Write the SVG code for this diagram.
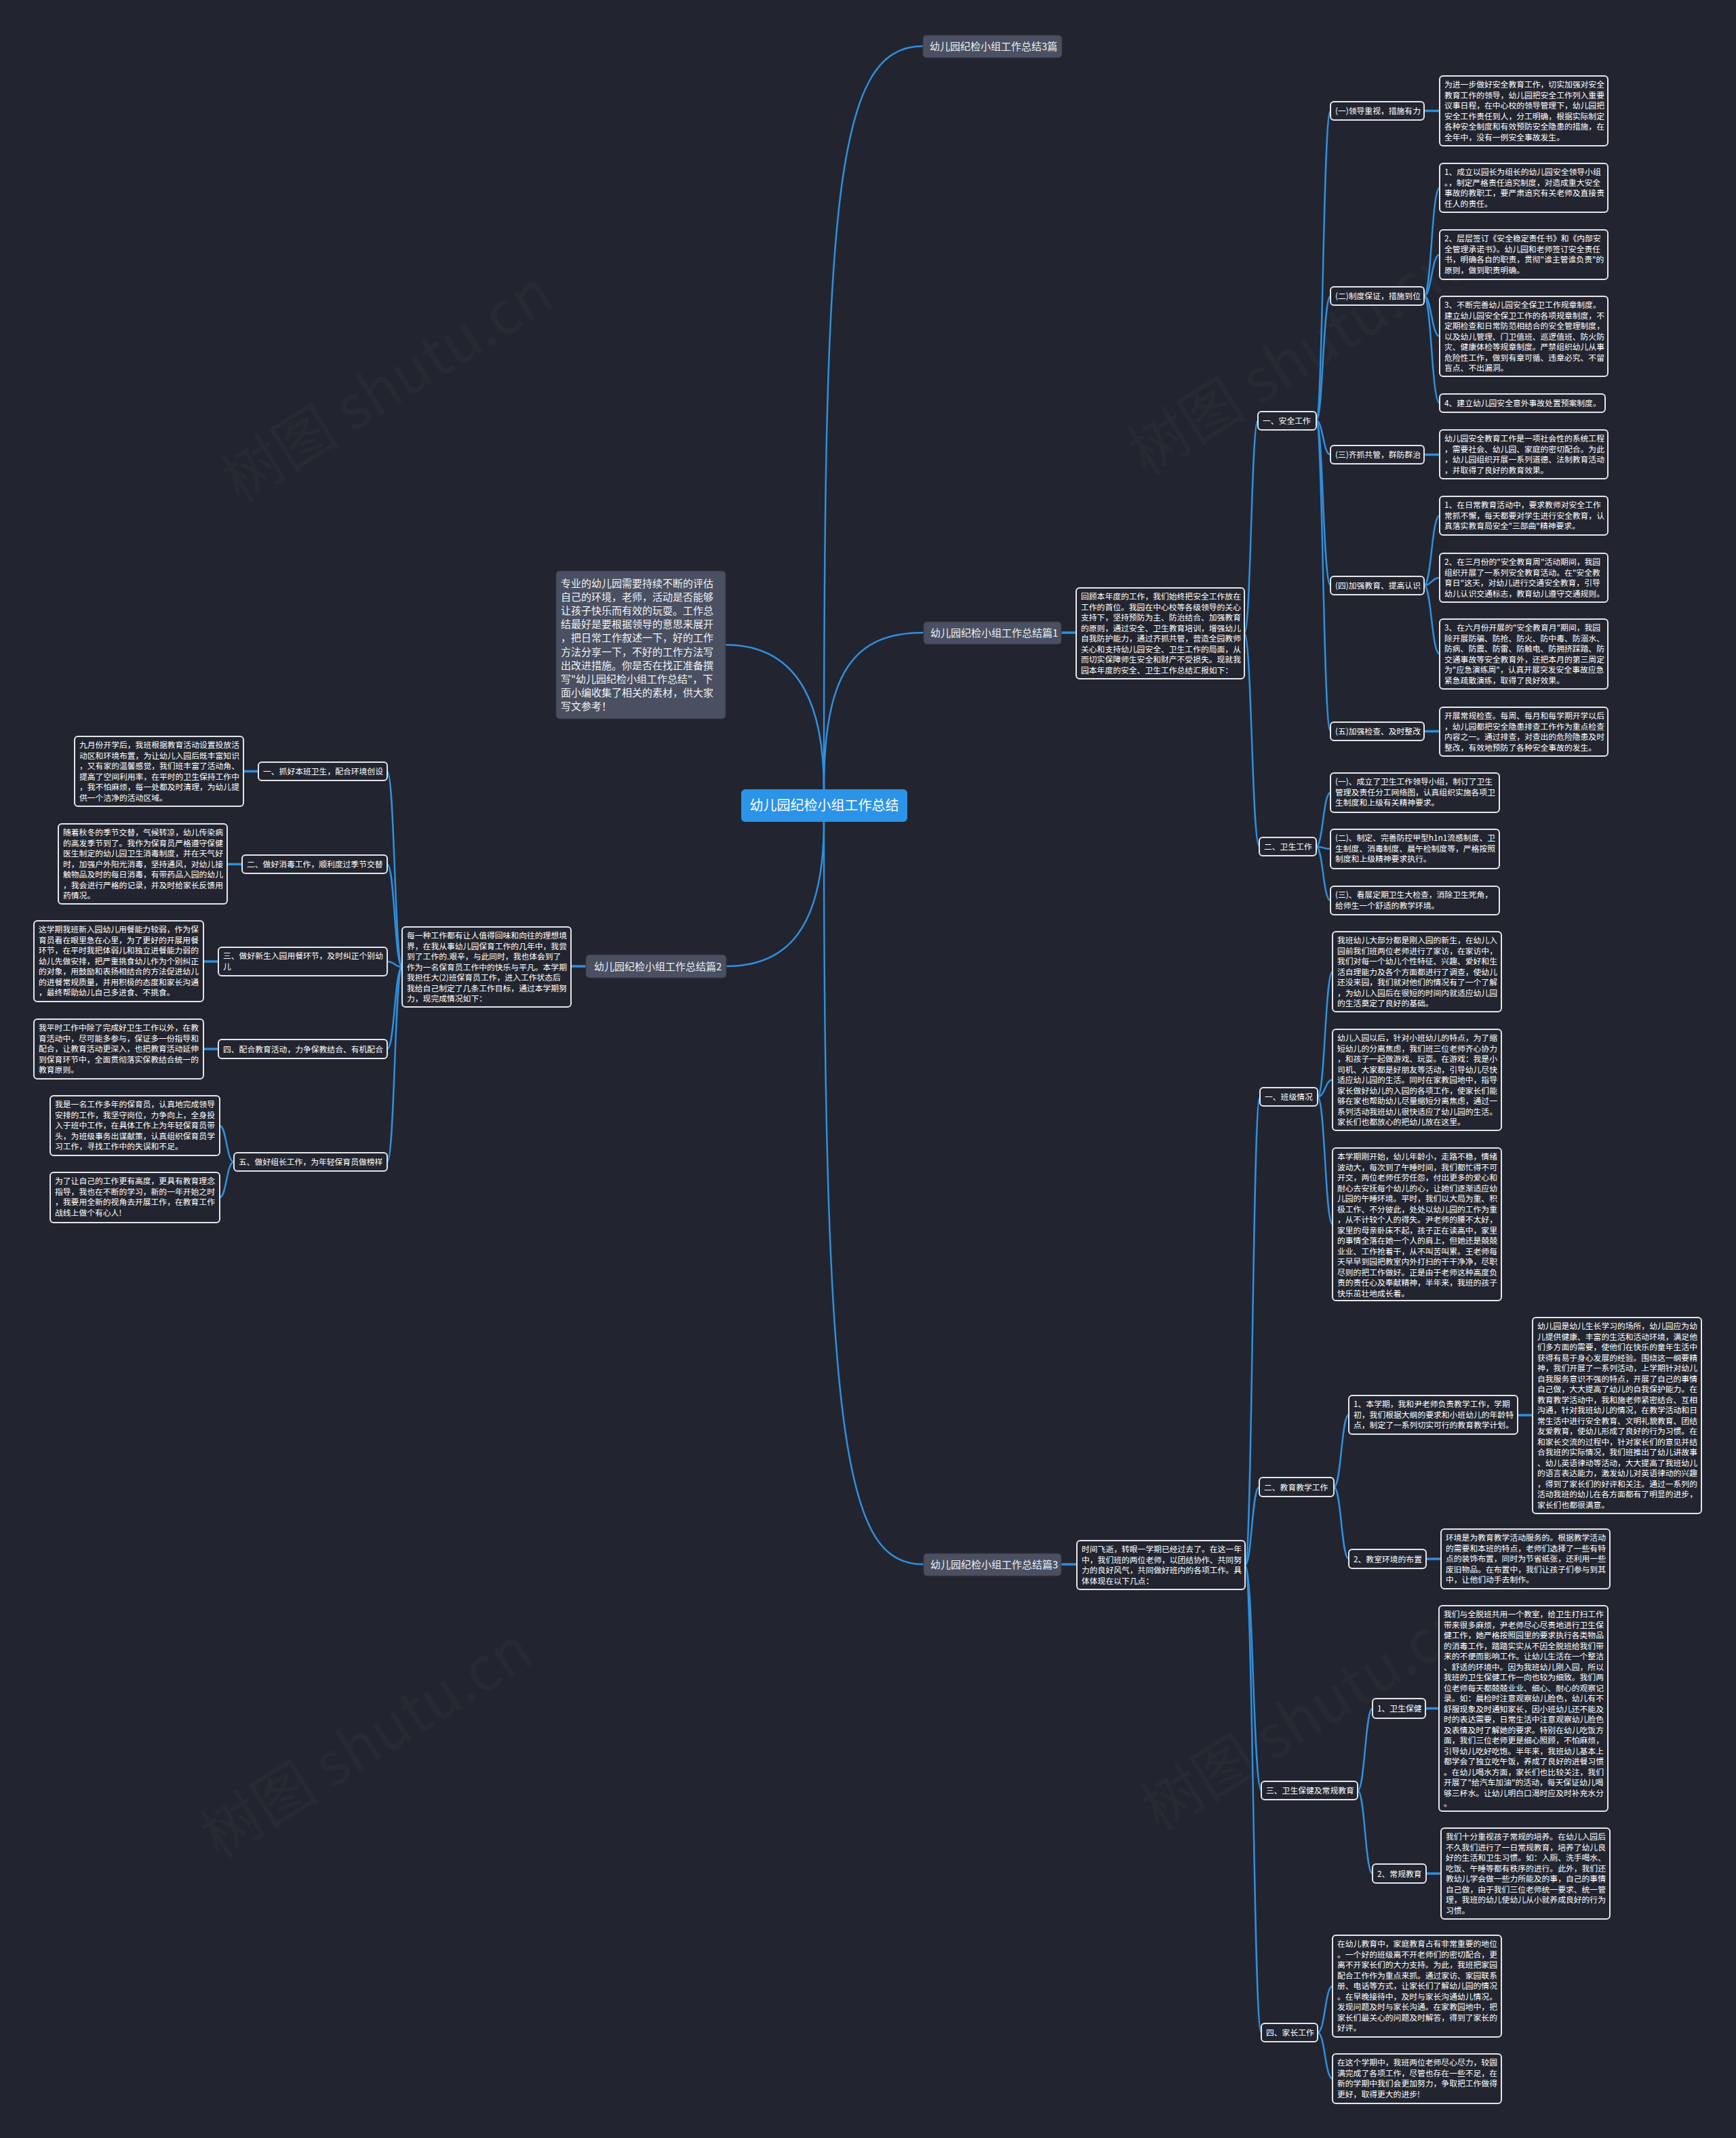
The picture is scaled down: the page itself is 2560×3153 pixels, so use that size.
<svg xmlns="http://www.w3.org/2000/svg" width="2560" height="3153" viewBox="0 0 2560 3153">
<style>
.bg{fill:#22252f}
.box{fill:#22252f;stroke:#e4e6ea;stroke-width:2}
.gn{fill:#4a5061;stroke:#343845;stroke-width:1}
.cn{fill:#2b93e8}
.t{font-family:"Noto Sans CJK SC","Noto Sans",sans-serif;font-size:11.8px;fill:#ffffff}
.ti{font-size:15px;fill:#f2f3f5}
.tg{font-size:15px;fill:#eef0f4}
.tc{font-size:20px;fill:#ffffff}
.ln{fill:none;stroke:#2f8fde;stroke-width:2.5}
.lh{fill:none;stroke:#2f8fde;stroke-width:3.5}
.wm{font-family:"Noto Sans CJK SC","Noto Sans",sans-serif;font-size:88px;fill:#ffffff;opacity:0.02}
</style>
<rect class="bg" x="0" y="0" width="2560" height="3153"/>
<g id="watermarks">
<text class="wm" x="573" y="600" text-anchor="middle" transform="rotate(-32 573 573)">树图 shutu.cn</text>
<text class="wm" x="1910" y="560" text-anchor="middle" transform="rotate(-32 1910 533)">树图 shutu.cn</text>
<text class="wm" x="543" y="2600" text-anchor="middle" transform="rotate(-32 543 2574)">树图 shutu.cn</text>
<text class="wm" x="1930" y="2560" text-anchor="middle" transform="rotate(-32 1930 2534)">树图 shutu.cn</text>
</g>
<g id="connectors">
<path class="ln" d="M1215,1164 C1215,300 1230,68 1361,68"/>
<path class="ln" d="M1215,1164 C1215,990 1260,933 1362,933"/>
<path class="ln" d="M1215,1164 C1215,1000 1150,951 1070,951"/>
<path class="ln" d="M1215,1212 C1215,2150 1250,2307 1362,2307"/>
<path class="ln" d="M1215,1212 C1215,1370 1160,1425 1071,1425"/>
<path class="lh" d="M1565,933 L1587,933"/>
<path class="lh" d="M864,1425 L842,1425"/>
<path class="lh" d="M1565,2307 L1588,2307"/>
<path class="ln" d="M1835,934 C1845,934 1845,620 1855,620"/>
<path class="ln" d="M1835,934 C1846,934 1846,1248 1857,1248"/>
<path class="ln" d="M1941,620 C1951,620 1951,163.5 1962,163.5"/>
<path class="ln" d="M1941,620 C1951,620 1951,436.5 1962,436.5"/>
<path class="ln" d="M1941,620 C1951,620 1951,670.5 1962,670.5"/>
<path class="ln" d="M1941,620 C1951,620 1951,863.5 1962,863.5"/>
<path class="ln" d="M1941,620 C1951,620 1951,1078.5 1962,1078.5"/>
<path class="lh" d="M2100,163.5 L2123,163.5"/>
<path class="ln" d="M2100,436.5 C2111,436.5 2111,277 2123,277"/>
<path class="ln" d="M2100,436.5 C2111,436.5 2111,375.5 2123,375.5"/>
<path class="ln" d="M2100,436.5 C2111,436.5 2111,496 2123,496"/>
<path class="ln" d="M2100,436.5 C2111,436.5 2111,594.5 2123,594.5"/>
<path class="lh" d="M2100,670.5 L2123,670.5"/>
<path class="ln" d="M2100,863.5 C2111,863.5 2111,760.5 2123,760.5"/>
<path class="ln" d="M2100,863.5 C2111,863.5 2111,852 2123,852"/>
<path class="ln" d="M2100,863.5 C2111,863.5 2111,964.5 2123,964.5"/>
<path class="lh" d="M2100,1078.5 L2123,1078.5"/>
<path class="ln" d="M1941,1248.5 C1951,1248.5 1951,1169 1962,1169"/>
<path class="ln" d="M1941,1248.5 C1951,1248.5 1951,1252 1962,1252"/>
<path class="ln" d="M1941,1248.5 C1951,1248.5 1951,1328 1962,1328"/>
<path class="ln" d="M593,1426 C582,1426 582,1137.5 571,1137.5"/>
<path class="ln" d="M593,1426 C582,1426 582,1274.5 571,1274.5"/>
<path class="ln" d="M593,1426 C582,1426 582,1418 571,1418"/>
<path class="ln" d="M593,1426 C582,1426 582,1547 571,1547"/>
<path class="ln" d="M593,1426 C582,1426 582,1713.5 571,1713.5"/>
<path class="lh" d="M381,1137.5 L359,1137.5"/>
<path class="lh" d="M357,1274.5 L335,1274.5"/>
<path class="lh" d="M322,1418 L300,1418"/>
<path class="lh" d="M322,1547 L300,1547"/>
<path class="ln" d="M345,1713.5 C334,1713.5 334,1660 324,1660"/>
<path class="ln" d="M345,1713.5 C334,1713.5 334,1766 324,1766"/>
<path class="ln" d="M1836,2308 C1847,2308 1847,1617.5 1858,1617.5"/>
<path class="ln" d="M1836,2308 C1846,2308 1846,2193 1857,2193"/>
<path class="ln" d="M1836,2308 C1848,2308 1848,2640.5 1860,2640.5"/>
<path class="ln" d="M1836,2308 C1848,2308 1848,2997.5 1860,2997.5"/>
<path class="ln" d="M1943,1617.5 C1954,1617.5 1954,1433 1965,1433"/>
<path class="ln" d="M1943,1617.5 C1954,1617.5 1954,1592.5 1965,1592.5"/>
<path class="ln" d="M1943,1617.5 C1954,1617.5 1954,1805.5 1965,1805.5"/>
<path class="ln" d="M1967,2193 C1978,2193 1978,2086.5 1989,2086.5"/>
<path class="ln" d="M1967,2193 C1978,2193 1978,2299 1989,2299"/>
<path class="lh" d="M2238,2087 L2260,2087"/>
<path class="lh" d="M2103,2299 L2125,2299"/>
<path class="ln" d="M2002,2640.5 C2013,2640.5 2013,2519.5 2024,2519.5"/>
<path class="ln" d="M2002,2640.5 C2013,2640.5 2013,2763 2024,2763"/>
<path class="lh" d="M2102,2519.5 L2122,2519.5"/>
<path class="lh" d="M2103,2763 L2125,2763"/>
<path class="ln" d="M1943,2997.5 C1954,2997.5 1954,2929 1965,2929"/>
<path class="ln" d="M1943,2997.5 C1954,2997.5 1954,3065.5 1965,3065.5"/>
</g>
<g id="center">
<rect class="cn" x="1093" y="1164" width="245" height="48" rx="6"/>
<text class="t tc" x="1215.5" y="1195" text-anchor="middle">幼儿园纪检小组工作总结</text>
</g>
<g id="p3top">
<rect class="gn" x="1361" y="52" width="205" height="33" rx="5"/>
<text class="t tg" x="1371" y="74">幼儿园纪检小组工作总结3篇</text>
</g>
<g id="intro">
<rect class="gn" x="820" y="842" width="250" height="218" rx="5"/>
<text class="t ti"><tspan x="827" y="865.5">专业的幼儿园需要持续不断的评估</tspan><tspan x="827" y="885.7">自己的环境，老师，活动是否能够</tspan><tspan x="827" y="905.9">让孩子快乐而有效的玩耍。工作总</tspan><tspan x="827" y="926.1">结最好是要根据领导的意思来展开</tspan><tspan x="827" y="946.3">，把日常工作叙述一下，好的工作</tspan><tspan x="827" y="966.5">方法分享一下，不好的工作方法写</tspan><tspan x="827" y="986.7">出改进措施。你是否在找正准备撰</tspan><tspan x="827" y="1006.9">写"幼儿园纪检小组工作总结"，下</tspan><tspan x="827" y="1027.1">面小编收集了相关的素材，供大家</tspan><tspan x="827" y="1047.3">写文参考！</tspan></text>
</g>
<g id="p1">
<rect class="gn" x="1362" y="917" width="203" height="33" rx="5"/>
<text class="t tg" x="1372" y="939">幼儿园纪检小组工作总结篇1</text>
</g>
<g id="p1t">
<rect class="box" x="1587" y="867" width="248" height="134" rx="5"/>
<text class="t"><tspan x="1594" y="884">回顾本年度的工作，我们始终把安全工作放在</tspan><tspan x="1594" y="899.5">工作的首位。我园在中心校等各级领导的关心</tspan><tspan x="1594" y="915">支持下，坚持预防为主、防治结合、加强教育</tspan><tspan x="1594" y="930.5">的原则，通过安全、卫生教育培训，增强幼儿</tspan><tspan x="1594" y="946">自我防护能力，通过齐抓共管，营造全园教师</tspan><tspan x="1594" y="961.5">关心和支持幼儿园安全、卫生工作的局面，从</tspan><tspan x="1594" y="977">而切实保障师生安全和财产不受损失。现就我</tspan><tspan x="1594" y="992.5">园本年度的安全、卫生工作总结汇报如下：</tspan></text>
</g>
<g id="a0">
<rect class="box" x="1855" y="607" width="86" height="27" rx="5"/>
<text class="t" x="1862" y="625">一、安全工作</text>
</g>
<g id="a1">
<rect class="box" x="1962" y="150" width="138" height="27" rx="5"/>
<text class="t" x="1969" y="168">(一)领导重视，措施有力</text>
</g>
<g id="a1t">
<rect class="box" x="2123" y="112" width="248" height="103" rx="5"/>
<text class="t"><tspan x="2130" y="129">为进一步做好安全教育工作，切实加强对安全</tspan><tspan x="2130" y="144.5">教育工作的领导，幼儿园把安全工作列入重要</tspan><tspan x="2130" y="160">议事日程，在中心校的领导管理下，幼儿园把</tspan><tspan x="2130" y="175.5">安全工作责任到人，分工明确，根据实际制定</tspan><tspan x="2130" y="191">各种安全制度和有效预防安全隐患的措施，在</tspan><tspan x="2130" y="206.5">全年中，没有一例安全事故发生。</tspan></text>
</g>
<g id="a2">
<rect class="box" x="1962" y="423" width="138" height="27" rx="5"/>
<text class="t" x="1969" y="441">(二)制度保证，措施到位</text>
</g>
<g id="a2a">
<rect class="box" x="2123" y="241" width="248" height="72" rx="5"/>
<text class="t"><tspan x="2130" y="258">1、成立以园长为组长的幼儿园安全领导小组</tspan><tspan x="2130" y="273.5">。，制定严格责任追究制度，对造成重大安全</tspan><tspan x="2130" y="289">事故的教职工，要严肃追究有关老师及直接责</tspan><tspan x="2130" y="304.5">任人的责任。</tspan></text>
</g>
<g id="a2b">
<rect class="box" x="2123" y="339" width="248" height="73" rx="5"/>
<text class="t"><tspan x="2130" y="356">2、层层签订《安全稳定责任书》和《内部安</tspan><tspan x="2130" y="371.5">全管理承诺书》。幼儿园和老师签订安全责任</tspan><tspan x="2130" y="387">书，明确各自的职责，贯彻"谁主管谁负责"的</tspan><tspan x="2130" y="402.5">原则，做到职责明确。</tspan></text>
</g>
<g id="a2c">
<rect class="box" x="2123" y="437" width="248" height="118" rx="5"/>
<text class="t"><tspan x="2130" y="454">3、不断完善幼儿园安全保卫工作规章制度。</tspan><tspan x="2130" y="469.5">建立幼儿园安全保卫工作的各项规章制度，不</tspan><tspan x="2130" y="485">定期检查和日常防范相结合的安全管理制度，</tspan><tspan x="2130" y="500.5">以及幼儿管理、门卫值班、巡逻值班、防火防</tspan><tspan x="2130" y="516">灾、健康体检等规章制度。严禁组织幼儿从事</tspan><tspan x="2130" y="531.5">危险性工作，做到有章可循、违章必究、不留</tspan><tspan x="2130" y="547">盲点、不出漏洞。</tspan></text>
</g>
<g id="a2d">
<rect class="box" x="2123" y="581" width="244" height="27" rx="5"/>
<text class="t" x="2130" y="599">4、建立幼儿园安全意外事故处置预案制度。</text>
</g>
<g id="a3">
<rect class="box" x="1962" y="657" width="138" height="27" rx="5"/>
<text class="t" x="1969" y="675">(三)齐抓共管，群防群治</text>
</g>
<g id="a3t">
<rect class="box" x="2123" y="634" width="248" height="72" rx="5"/>
<text class="t"><tspan x="2130" y="651">幼儿园安全教育工作是一项社会性的系统工程</tspan><tspan x="2130" y="666.5">，需要社会、幼儿园、家庭的密切配合。为此</tspan><tspan x="2130" y="682">，幼儿园组织开展一系列道德、法制教育活动</tspan><tspan x="2130" y="697.5">，并取得了良好的教育效果。</tspan></text>
</g>
<g id="a4">
<rect class="box" x="1962" y="850" width="138" height="27" rx="5"/>
<text class="t" x="1969" y="868">(四)加强教育、提高认识</text>
</g>
<g id="a4a">
<rect class="box" x="2123" y="732" width="248" height="57" rx="5"/>
<text class="t"><tspan x="2130" y="749">1、在日常教育活动中，要求教师对安全工作</tspan><tspan x="2130" y="764.5">常抓不懈，每天都要对学生进行安全教育，认</tspan><tspan x="2130" y="780">真落实教育局安全"三部曲"精神要求。</tspan></text>
</g>
<g id="a4b">
<rect class="box" x="2123" y="816" width="248" height="72" rx="5"/>
<text class="t"><tspan x="2130" y="833">2、在三月份的"安全教育周"活动期间，我园</tspan><tspan x="2130" y="848.5">组织开展了一系列安全教育活动。在"安全教</tspan><tspan x="2130" y="864">育日"这天，对幼儿进行交通安全教育，引导</tspan><tspan x="2130" y="879.5">幼儿认识交通标志，教育幼儿遵守交通规则。</tspan></text>
</g>
<g id="a4c">
<rect class="box" x="2123" y="913" width="248" height="103" rx="5"/>
<text class="t"><tspan x="2130" y="930">3、在六月份开展的"安全教育月"期间，我园</tspan><tspan x="2130" y="945.5">除开展防骗、防抢、防火、防中毒、防溺水、</tspan><tspan x="2130" y="961">防病、防震、防雷、防触电、防拥挤踩踏、防</tspan><tspan x="2130" y="976.5">交通事故等安全教育外，还把本月的第三周定</tspan><tspan x="2130" y="992">为"应急演练周"，认真开展突发安全事故应急</tspan><tspan x="2130" y="1007.5">紧急疏散演练，取得了良好效果。</tspan></text>
</g>
<g id="a5">
<rect class="box" x="1962" y="1065" width="138" height="27" rx="5"/>
<text class="t" x="1969" y="1083">(五)加强检查、及时整改</text>
</g>
<g id="a5t">
<rect class="box" x="2123" y="1043" width="248" height="72" rx="5"/>
<text class="t"><tspan x="2130" y="1060">开展常规检查。每周、每月和每学期开学以后</tspan><tspan x="2130" y="1075.5">，幼儿园都把安全隐患排查工作作为重点检查</tspan><tspan x="2130" y="1091">内容之一。通过排查，对查出的危险隐患及时</tspan><tspan x="2130" y="1106.5">整改，有效地预防了各种安全事故的发生。</tspan></text>
</g>
<g id="b0">
<rect class="box" x="1857" y="1235" width="84" height="27" rx="5"/>
<text class="t" x="1864" y="1253">二、卫生工作</text>
</g>
<g id="b1">
<rect class="box" x="1962" y="1140" width="249" height="58" rx="5"/>
<text class="t"><tspan x="1969" y="1157">(一)、成立了卫生工作领导小组，制订了卫生</tspan><tspan x="1969" y="1172.5">管理及责任分工网络图，认真组织实施各项卫</tspan><tspan x="1969" y="1188">生制度和上级有关精神要求。</tspan></text>
</g>
<g id="b2">
<rect class="box" x="1962" y="1223" width="249" height="58" rx="5"/>
<text class="t"><tspan x="1969" y="1240">(二)、制定、完善防控甲型h1n1流感制度、卫</tspan><tspan x="1969" y="1255.5">生制度、消毒制度、晨午检制度等，严格按照</tspan><tspan x="1969" y="1271">制度和上级精神要求执行。</tspan></text>
</g>
<g id="b3">
<rect class="box" x="1962" y="1307" width="249" height="42" rx="5"/>
<text class="t"><tspan x="1969" y="1324">(三)、看展定期卫生大检查，消除卫生死角，</tspan><tspan x="1969" y="1339.5">给师生一个舒适的教学环境。</tspan></text>
</g>
<g id="p2">
<rect class="gn" x="864" y="1408" width="207" height="34" rx="5"/>
<text class="t tg" x="876" y="1431">幼儿园纪检小组工作总结篇2</text>
</g>
<g id="p2t">
<rect class="box" x="593" y="1367" width="249" height="118" rx="5"/>
<text class="t"><tspan x="600" y="1384">每一种工作都有让人值得回味和向往的理想境</tspan><tspan x="600" y="1399.5">界，在我从事幼儿园保育工作的几年中，我尝</tspan><tspan x="600" y="1415">到了工作的.艰辛，与此同时，我也体会到了</tspan><tspan x="600" y="1430.5">作为一名保育员工作中的快乐与平凡。本学期</tspan><tspan x="600" y="1446">我担任大(2)班保育员工作，进入工作状态后</tspan><tspan x="600" y="1461.5">我给自己制定了几条工作目标，通过本学期努</tspan><tspan x="600" y="1477">力，现完成情况如下：</tspan></text>
</g>
<g id="l1">
<rect class="box" x="381" y="1124" width="190" height="27" rx="5"/>
<text class="t" x="388" y="1142">一、抓好本班卫生，配合环境创设</text>
</g>
<g id="l1t">
<rect class="box" x="110" y="1086" width="249" height="103" rx="5"/>
<text class="t"><tspan x="117" y="1103">九月份开学后，我班根据教育活动设置投放活</tspan><tspan x="117" y="1118.5">动区和环境布置，为让幼儿入园后既丰富知识</tspan><tspan x="117" y="1134">，又有家的温馨感觉，我们班丰富了活动角、</tspan><tspan x="117" y="1149.5">提高了空间利用率，在平时的卫生保持工作中</tspan><tspan x="117" y="1165">，我不怕麻烦，每一处都及时清理，为幼儿提</tspan><tspan x="117" y="1180.5">供一个洁净的活动区域。</tspan></text>
</g>
<g id="l2">
<rect class="box" x="357" y="1261" width="214" height="27" rx="5"/>
<text class="t" x="364" y="1279">二、做好消毒工作，顺利度过季节交替</text>
</g>
<g id="l2t">
<rect class="box" x="86" y="1215" width="249" height="118" rx="5"/>
<text class="t"><tspan x="93" y="1232">随着秋冬的季节交替，气候转凉，幼儿传染病</tspan><tspan x="93" y="1247.5">的高发季节到了。我作为保育员严格遵守保健</tspan><tspan x="93" y="1263">医生制定的幼儿园卫生消毒制度，并在天气好</tspan><tspan x="93" y="1278.5">时，加强户外阳光消毒，坚持通风，对幼儿接</tspan><tspan x="93" y="1294">触物品及时的每日消毒，有带药品入园的幼儿</tspan><tspan x="93" y="1309.5">，我会进行严格的记录，并及时给家长反馈用</tspan><tspan x="93" y="1325">药情况。</tspan></text>
</g>
<g id="l3">
<rect class="box" x="322" y="1397" width="249" height="42" rx="5"/>
<text class="t"><tspan x="329" y="1414">三、做好新生入园用餐环节，及时纠正个别幼</tspan><tspan x="329" y="1429.5">儿</tspan></text>
</g>
<g id="l3t">
<rect class="box" x="50" y="1358" width="250" height="119" rx="5"/>
<text class="t"><tspan x="57" y="1375">这学期我班新入园幼儿用餐能力较弱，作为保</tspan><tspan x="57" y="1390.5">育员看在眼里急在心里，为了更好的开展用餐</tspan><tspan x="57" y="1406">环节，在平时我把体弱儿和独立进餐能力弱的</tspan><tspan x="57" y="1421.5">幼儿先做安排，把严重挑食幼儿作为个别纠正</tspan><tspan x="57" y="1437">的对象，用鼓励和表扬相结合的方法促进幼儿</tspan><tspan x="57" y="1452.5">的进餐常规质量，并用积极的态度和家长沟通</tspan><tspan x="57" y="1468">，最终帮助幼儿自己多进食、不挑食。</tspan></text>
</g>
<g id="l4">
<rect class="box" x="322" y="1533" width="249" height="28" rx="5"/>
<text class="t" x="329" y="1552">四、配合教育活动，力争保教结合、有机配合</text>
</g>
<g id="l4t">
<rect class="box" x="50" y="1503" width="250" height="88" rx="5"/>
<text class="t"><tspan x="57" y="1520">我平时工作中除了完成好卫生工作以外，在教</tspan><tspan x="57" y="1535.5">育活动中，尽可能多参与，保证多一份指导和</tspan><tspan x="57" y="1551">配合，让教育活动更深入，也把教育活动延伸</tspan><tspan x="57" y="1566.5">到保育环节中，全面贯彻落实保教结合统一的</tspan><tspan x="57" y="1582">教育原则。</tspan></text>
</g>
<g id="l5">
<rect class="box" x="345" y="1700" width="226" height="27" rx="5"/>
<text class="t" x="352" y="1718">五、做好组长工作，为年轻保育员做榜样</text>
</g>
<g id="l5a">
<rect class="box" x="74" y="1616" width="250" height="88" rx="5"/>
<text class="t"><tspan x="81" y="1633">我是一名工作多年的保育员，认真地完成领导</tspan><tspan x="81" y="1648.5">安排的工作，我坚守岗位，力争向上，全身投</tspan><tspan x="81" y="1664">入于班中工作，在具体工作上为年轻保育员带</tspan><tspan x="81" y="1679.5">头，为班级事务出谋献策，认真组织保育员学</tspan><tspan x="81" y="1695">习工作，寻找工作中的失误和不足。</tspan></text>
</g>
<g id="l5b">
<rect class="box" x="74" y="1729" width="250" height="74" rx="5"/>
<text class="t"><tspan x="81" y="1746">为了让自己的工作更有高度，更具有教育理念</tspan><tspan x="81" y="1761.5">指导，我也在不断的学习，新的一年开始之时</tspan><tspan x="81" y="1777">，我要用全新的视角去开展工作，在教育工作</tspan><tspan x="81" y="1792.5">战线上做个有心人!</tspan></text>
</g>
<g id="p3">
<rect class="gn" x="1362" y="2291" width="203" height="33" rx="5"/>
<text class="t tg" x="1372" y="2313">幼儿园纪检小组工作总结篇3</text>
</g>
<g id="p3t">
<rect class="box" x="1588" y="2272" width="248" height="72" rx="5"/>
<text class="t"><tspan x="1595" y="2289">时间飞逝，转眼一学期已经过去了。在这一年</tspan><tspan x="1595" y="2304.5">中，我们班的两位老师，以团结协作、共同努</tspan><tspan x="1595" y="2320">力的良好风气，共同做好班内的各项工作。具</tspan><tspan x="1595" y="2335.5">体体现在以下几点：</tspan></text>
</g>
<g id="c1">
<rect class="box" x="1858" y="1604" width="85" height="27" rx="5"/>
<text class="t" x="1865" y="1622">一、班级情况</text>
</g>
<g id="c1a">
<rect class="box" x="1965" y="1374" width="249" height="118" rx="5"/>
<text class="t"><tspan x="1972" y="1391">我班幼儿大部分都是刚入园的新生，在幼儿入</tspan><tspan x="1972" y="1406.5">园前我们班两位老师进行了家访，在家访中，</tspan><tspan x="1972" y="1422">我们对每一个幼儿个性特征、兴趣、爱好和生</tspan><tspan x="1972" y="1437.5">活自理能力及各个方面都进行了调查，使幼儿</tspan><tspan x="1972" y="1453">还没来园，我们就对他们的情况有了一个了解</tspan><tspan x="1972" y="1468.5">，为幼儿入园后在很短的时间内就适应幼儿园</tspan><tspan x="1972" y="1484">的生活奠定了良好的基础。</tspan></text>
</g>
<g id="c1b">
<rect class="box" x="1965" y="1518" width="249" height="149" rx="5"/>
<text class="t"><tspan x="1972" y="1535">幼儿入园以后，针对小班幼儿的特点，为了缩</tspan><tspan x="1972" y="1550.5">短幼儿的分离焦虑，我们班三位老师齐心协力</tspan><tspan x="1972" y="1566">，和孩子一起做游戏、玩耍。在游戏：我是小</tspan><tspan x="1972" y="1581.5">司机、大家都是好朋友等活动，引导幼儿尽快</tspan><tspan x="1972" y="1597">适应幼儿园的生活。同时在家教园地中，指导</tspan><tspan x="1972" y="1612.5">家长做好幼儿的入园的各项工作，使家长们能</tspan><tspan x="1972" y="1628">够在家也帮助幼儿尽量缩短分离焦虑，通过一</tspan><tspan x="1972" y="1643.5">系列活动我班幼儿很快适应了幼儿园的生活。</tspan><tspan x="1972" y="1659">家长们也都放心的把幼儿放在这里。</tspan></text>
</g>
<g id="c1c">
<rect class="box" x="1965" y="1693" width="249" height="225" rx="5"/>
<text class="t"><tspan x="1972" y="1710">本学期刚开始，幼儿年龄小，走路不稳，情绪</tspan><tspan x="1972" y="1725.5">波动大，每次到了午睡时间，我们都忙得不可</tspan><tspan x="1972" y="1741">开交，两位老师任劳任怨，付出更多的爱心和</tspan><tspan x="1972" y="1756.5">耐心去安抚每个幼儿的心，让她们逐渐适应幼</tspan><tspan x="1972" y="1772">儿园的午睡环境。平时，我们以大局为重、积</tspan><tspan x="1972" y="1787.5">极工作、不分彼此，处处以幼儿园的工作为重</tspan><tspan x="1972" y="1803">，从不计较个人的得失。尹老师的腰不太好，</tspan><tspan x="1972" y="1818.5">家里的母亲卧床不起，孩子正在读高中，家里</tspan><tspan x="1972" y="1834">的事情全落在她一个人的肩上，但她还是兢兢</tspan><tspan x="1972" y="1849.5">业业、工作抢着干，从不叫苦叫累。王老师每</tspan><tspan x="1972" y="1865">天早早到园把教室内外打扫的干干净净，尽职</tspan><tspan x="1972" y="1880.5">尽则的把工作做好。正是由于老师这种高度负</tspan><tspan x="1972" y="1896">责的责任心及奉献精神，半年来，我班的孩子</tspan><tspan x="1972" y="1911.5">快乐茁壮地成长着。</tspan></text>
</g>
<g id="c2">
<rect class="box" x="1857" y="2179" width="110" height="28" rx="5"/>
<text class="t" x="1864" y="2198">二、教育教学工作</text>
</g>
<g id="c2a">
<rect class="box" x="1989" y="2058" width="249" height="57" rx="5"/>
<text class="t"><tspan x="1996" y="2075">1、本学期，我和尹老师负责教学工作，学期</tspan><tspan x="1996" y="2090.5">初，我们根据大纲的要求和小班幼儿的年龄特</tspan><tspan x="1996" y="2106">点，制定了一系列切实可行的教育教学计划。</tspan></text>
</g>
<g id="c2ax">
<rect class="box" x="2260" y="1943" width="249" height="289" rx="5"/>
<text class="t"><tspan x="2267" y="1960">幼儿园是幼儿生长学习的场所，幼儿园应为幼</tspan><tspan x="2267" y="1975.5">儿提供健康、丰富的生活和活动环境，满足他</tspan><tspan x="2267" y="1991">们多方面的需要，使他们在快乐的童年生活中</tspan><tspan x="2267" y="2006.5">获得有易于身心发展的经验。围绕这一纲要精</tspan><tspan x="2267" y="2022">神，我们开展了一系列活动，上学期针对幼儿</tspan><tspan x="2267" y="2037.5">自我服务意识不强的特点，开展了自己的事情</tspan><tspan x="2267" y="2053">自己做，大大提高了幼儿的自我保护能力。在</tspan><tspan x="2267" y="2068.5">教育教学活动中，我和施老师紧密结合、互相</tspan><tspan x="2267" y="2084">沟通，针对我班幼儿的情况，在教学活动和日</tspan><tspan x="2267" y="2099.5">常生活中进行安全教育、文明礼貌教育、团结</tspan><tspan x="2267" y="2115">友爱教育，使幼儿形成了良好的行为习惯。在</tspan><tspan x="2267" y="2130.5">和家长交流的过程中，针对家长们的意见并结</tspan><tspan x="2267" y="2146">合我班的实际情况，我们班推出了幼儿讲故事</tspan><tspan x="2267" y="2161.5">、幼儿英语律动等活动，大大提高了我班幼儿</tspan><tspan x="2267" y="2177">的语言表达能力，激发幼儿对英语律动的兴趣</tspan><tspan x="2267" y="2192.5">，得到了家长们的好评和关注。通过一系列的</tspan><tspan x="2267" y="2208">活动我班的幼儿在各方面都有了明显的进步，</tspan><tspan x="2267" y="2223.5">家长们也都很满意。</tspan></text>
</g>
<g id="c2b">
<rect class="box" x="1989" y="2285" width="114" height="28" rx="5"/>
<text class="t" x="1996" y="2304">2、教室环境的布置</text>
</g>
<g id="c2bt">
<rect class="box" x="2125" y="2255" width="249" height="88" rx="5"/>
<text class="t"><tspan x="2132" y="2272">环境是为教育教学活动服务的。根据教学活动</tspan><tspan x="2132" y="2287.5">的需要和本班的特点，老师们选择了一些有特</tspan><tspan x="2132" y="2303">点的装饰布置，同时为节省纸张，还利用一些</tspan><tspan x="2132" y="2318.5">废旧物品。在布置中，我们让孩子们参与到其</tspan><tspan x="2132" y="2334">中，让他们动手去制作。</tspan></text>
</g>
<g id="c3">
<rect class="box" x="1860" y="2627" width="142" height="27" rx="5"/>
<text class="t" x="1867" y="2645">三、卫生保健及常规教育</text>
</g>
<g id="c3a">
<rect class="box" x="2024" y="2505" width="78" height="29" rx="5"/>
<text class="t" x="2031" y="2524">1、卫生保健</text>
</g>
<g id="c3at">
<rect class="box" x="2122" y="2368" width="249" height="303" rx="5"/>
<text class="t"><tspan x="2129" y="2385">我们与全脱班共用一个教室，给卫生打扫工作</tspan><tspan x="2129" y="2400.5">带来很多麻烦，尹老师尽心尽责地进行卫生保</tspan><tspan x="2129" y="2416">健工作，她严格按照园里的要求执行各类物品</tspan><tspan x="2129" y="2431.5">的消毒工作，踏踏实实从不因全脱班给我们带</tspan><tspan x="2129" y="2447">来的不便而影响工作。让幼儿生活在一个整洁</tspan><tspan x="2129" y="2462.5">、舒适的环境中。因为我班幼儿刚入园，所以</tspan><tspan x="2129" y="2478">我班的卫生保健工作一向也较为细致。我们两</tspan><tspan x="2129" y="2493.5">位老师每天都兢兢业业、细心、耐心的观察记</tspan><tspan x="2129" y="2509">录。如：晨检时注意观察幼儿脸色，幼儿有不</tspan><tspan x="2129" y="2524.5">舒服现象及时通知家长，因小班幼儿还不能及</tspan><tspan x="2129" y="2540">时的表达需要，日常生活中注意观察幼儿脸色</tspan><tspan x="2129" y="2555.5">及表情及时了解她的要求。特别在幼儿吃饭方</tspan><tspan x="2129" y="2571">面，我们三位老师更是细心照顾，不怕麻烦，</tspan><tspan x="2129" y="2586.5">引导幼儿吃好吃饱。半年来，我班幼儿基本上</tspan><tspan x="2129" y="2602">都学会了独立吃午饭，养成了良好的进餐习惯</tspan><tspan x="2129" y="2617.5">。在幼儿喝水方面，家长们也比较关注，我们</tspan><tspan x="2129" y="2633">开展了"给汽车加油"的活动，每天保证幼儿喝</tspan><tspan x="2129" y="2648.5">够三杯水。让幼儿明白口渴时应及时补充水分</tspan><tspan x="2129" y="2664">。</tspan></text>
</g>
<g id="c3b">
<rect class="box" x="2024" y="2749" width="79" height="28" rx="5"/>
<text class="t" x="2031" y="2768">2、常规教育</text>
</g>
<g id="c3bt">
<rect class="box" x="2125" y="2696" width="249" height="134" rx="5"/>
<text class="t"><tspan x="2132" y="2713">我们十分重视孩子常规的培养。在幼儿入园后</tspan><tspan x="2132" y="2728.5">不久我们进行了一日常规教育，培养了幼儿良</tspan><tspan x="2132" y="2744">好的生活和卫生习惯。如：入厕、洗手喝水、</tspan><tspan x="2132" y="2759.5">吃饭、午睡等都有秩序的进行。此外，我们还</tspan><tspan x="2132" y="2775">教幼儿学会做一些力所能及的事，自己的事情</tspan><tspan x="2132" y="2790.5">自己做，由于我们三位老师统一要求、统一管</tspan><tspan x="2132" y="2806">理，我班的幼儿使幼儿从小就养成良好的行为</tspan><tspan x="2132" y="2821.5">习惯。</tspan></text>
</g>
<g id="c4">
<rect class="box" x="1860" y="2984" width="83" height="27" rx="5"/>
<text class="t" x="1867" y="3002">四、家长工作</text>
</g>
<g id="c4a">
<rect class="box" x="1965" y="2854" width="249" height="150" rx="5"/>
<text class="t"><tspan x="1972" y="2871">在幼儿教育中，家庭教育占有非常重要的地位</tspan><tspan x="1972" y="2886.5">。一个好的班级离不开老师们的密切配合，更</tspan><tspan x="1972" y="2902">离不开家长们的大力支持。为此，我班把家园</tspan><tspan x="1972" y="2917.5">配合工作作为重点来抓。通过家访、家园联系</tspan><tspan x="1972" y="2933">册、电话等方式，让家长们了解幼儿园的情况</tspan><tspan x="1972" y="2948.5">。在早晚接待中，及时与家长沟通幼儿情况。</tspan><tspan x="1972" y="2964">发现问题及时与家长沟通。在家教园地中，把</tspan><tspan x="1972" y="2979.5">家长们最关心的问题及时解答，得到了家长的</tspan><tspan x="1972" y="2995">好评。</tspan></text>
</g>
<g id="c4b">
<rect class="box" x="1965" y="3029" width="249" height="73" rx="5"/>
<text class="t"><tspan x="1972" y="3046">在这个学期中，我班两位老师尽心尽力，较圆</tspan><tspan x="1972" y="3061.5">满完成了各项工作，尽管也存在一些不足，在</tspan><tspan x="1972" y="3077">新的学期中我们会更加努力，争取把工作做得</tspan><tspan x="1972" y="3092.5">更好，取得更大的进步!</tspan></text>
</g>
</svg>
